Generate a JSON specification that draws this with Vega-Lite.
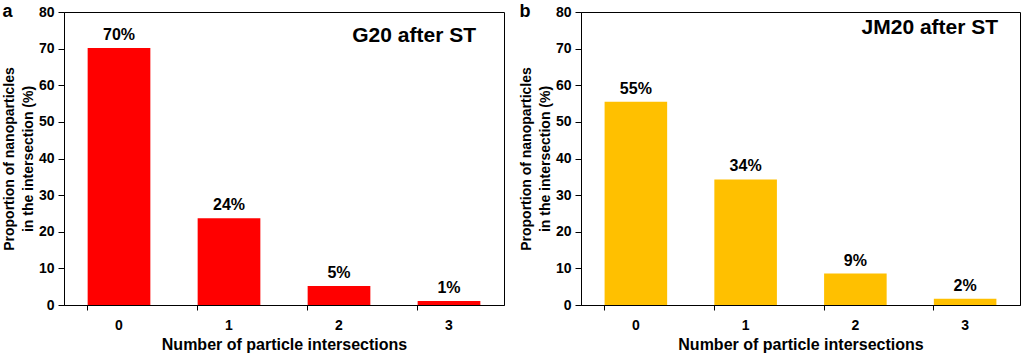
{
  "$schema": "https://vega.github.io/schema/vega-lite/v6.json",
  "padding": {"left": 1, "top": 2, "right": 2, "bottom": 0},
  "spacing": 13,
  "config": {
    "font": "Liberation Sans",
    "view": {"stroke": "black", "strokeWidth": 1},
    "axis": {
      "domainColor": "black", "tickColor": "black", "labelColor": "black", "titleColor": "black",
      "labelFont": "Liberation Sans", "titleFont": "Liberation Sans",
      "labelFontWeight": "bold", "titleFontWeight": "bold", "grid": false
    },
    "title": {"font": "Liberation Sans", "fontWeight": "bold", "color": "black"}
  },
  "hconcat": [
    {
      "width": 440,
      "height": 293,
      "title": {"text": "a", "anchor": "start", "frame": "bounds", "fontSize": 18, "offset": -16},
      "data": {"values": [
        {"n": 0, "p": 70.2, "label": "70%"},
        {"n": 1, "p": 23.7, "label": "24%"},
        {"n": 2, "p": 5.2, "label": "5%"},
        {"n": 3, "p": 1.1, "label": "1%"}
      ]},
      "encoding": {
        "x": {"field": "n", "type": "nominal",
          "scale": {"paddingInner": 0.43, "paddingOuter": 0.215},
          "axis": {"title": "Number of particle intersections", "labelAngle": 0, "bandPosition": 0,
            "tickSize": 5, "labelPadding": 8, "labelFontSize": 14, "titleFontSize": 16, "titlePadding": 4}},
        "y": {"field": "p", "type": "quantitative",
          "scale": {"domain": [0, 80]},
          "axis": {"title": ["Proportion of nanoparticles", "in the intersection (%)"], "values": [0,10,20,30,40,50,60,70,80],
            "tickSize": 6, "labelPadding": 4, "labelFontSize": 14, "titleFontSize": 14, "titleLineHeight": 19, "titlePadding": 3}}
      },
      "layer": [
        {"mark": {"type": "bar", "color": "#ff0000"}},
        {"mark": {"type": "text", "baseline": "bottom", "dy": -5, "fontSize": 16, "fontWeight": "bold", "font": "Liberation Sans", "color": "black"},
          "encoding": {"text": {"field": "label"}}},
        {"transform": [{"filter": "datum.n == 3"}],
          "mark": {"type": "text", "align": "right", "baseline": "alphabetic", "dx": 27, "fontSize": 21, "fontWeight": "bold", "font": "Liberation Sans", "color": "black"},
          "encoding": {"y": {"datum": 71.8, "type": "quantitative"}, "text": {"value": "G20 after ST"}}}
      ]
    },
    {
      "width": 439,
      "height": 293,
      "title": {"text": "b", "anchor": "start", "frame": "bounds", "fontSize": 18, "offset": -16},
      "data": {"values": [
        {"n": 0, "p": 55.5, "label": "55%"},
        {"n": 1, "p": 34.3, "label": "34%"},
        {"n": 2, "p": 8.6, "label": "9%"},
        {"n": 3, "p": 1.7, "label": "2%"}
      ]},
      "encoding": {
        "x": {"field": "n", "type": "nominal",
          "scale": {"paddingInner": 0.43, "paddingOuter": 0.215},
          "axis": {"title": "Number of particle intersections", "labelAngle": 0, "bandPosition": 0,
            "tickSize": 5, "labelPadding": 8, "labelFontSize": 14, "titleFontSize": 16, "titlePadding": 4}},
        "y": {"field": "p", "type": "quantitative",
          "scale": {"domain": [0, 80]},
          "axis": {"title": ["Proportion of nanoparticles", "in the intersection (%)"], "values": [0,10,20,30,40,50,60,70,80],
            "tickSize": 6, "labelPadding": 4, "labelFontSize": 14, "titleFontSize": 14, "titleLineHeight": 19, "titlePadding": 3}}
      },
      "layer": [
        {"mark": {"type": "bar", "color": "#ffc000"}},
        {"mark": {"type": "text", "baseline": "bottom", "dy": -5, "fontSize": 16, "fontWeight": "bold", "font": "Liberation Sans", "color": "black"},
          "encoding": {"text": {"field": "label"}}},
        {"transform": [{"filter": "datum.n == 3"}],
          "mark": {"type": "text", "align": "right", "baseline": "alphabetic", "dx": 33, "fontSize": 21, "fontWeight": "bold", "font": "Liberation Sans", "color": "black"},
          "encoding": {"y": {"datum": 74, "type": "quantitative"}, "text": {"value": "JM20 after ST"}}}
      ]
    }
  ]
}
